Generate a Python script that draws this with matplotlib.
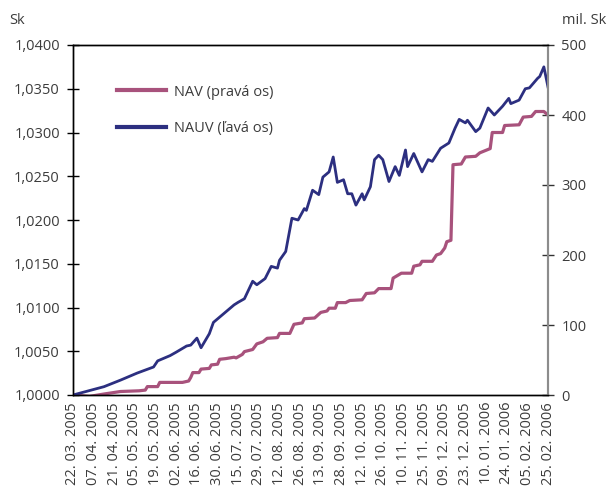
import matplotlib
matplotlib.use("Agg")
import matplotlib.pyplot as plt
from matplotlib.ticker import FuncFormatter

# ── Data (trading-day index, value) ─────────────────────────────────────────
nauv_idx = [0, 15, 23, 31, 39, 41, 47, 50, 55, 57, 60, 62, 66, 68, 73, 78, 80,
            83, 87, 89, 93, 96, 99, 100, 103, 106, 109, 112, 113, 116, 119, 121,
            124, 126, 128, 131, 133, 135, 137, 140, 141, 144, 146, 148, 150, 153,
            156, 158, 161, 162, 165, 169, 172, 174, 178, 182, 185, 187, 190, 191,
            195, 197, 201, 204, 208, 211, 212, 216, 219, 221, 225, 226, 228, 230]
nauv_val = [1.0000, 1.00095, 1.0017, 1.0025, 1.0032, 1.0039, 1.0045, 1.0049,
            1.0056, 1.0057, 1.0065, 1.0054, 1.0070, 1.0083, 1.0093, 1.0103,
            1.0106, 1.0110, 1.0130, 1.0126, 1.0133, 1.0147, 1.0145, 1.0154,
            1.0164, 1.0202, 1.0200, 1.0213, 1.0211, 1.0234, 1.0229, 1.0249,
            1.0255, 1.0272, 1.0243, 1.0246, 1.0230, 1.0230, 1.0217, 1.0230,
            1.0223, 1.0238, 1.0269, 1.0274, 1.0269, 1.0244, 1.0261, 1.0251,
            1.0280, 1.0261, 1.0276, 1.0255, 1.0269, 1.0267, 1.0282, 1.0288,
            1.0305, 1.0315, 1.0311, 1.0314, 1.0301, 1.0305, 1.0328, 1.0320,
            1.0330, 1.0339, 1.0333, 1.0337, 1.0350, 1.0351, 1.0362, 1.0364,
            1.0375, 1.0352]

nav_idx = [0, 8, 15, 23, 32, 35, 36, 41, 42, 53, 56, 57, 58, 61, 62, 66, 67, 70,
           71, 74, 78, 79, 82, 83, 87, 89, 92, 94, 99, 100, 105, 107, 111, 112,
           117, 120, 123, 124, 127, 128, 132, 134, 140, 142, 146, 148, 154, 155,
           159, 164, 165, 168, 169, 174, 176, 178, 180, 181, 183, 184, 188, 190,
           195, 197, 202, 203, 208, 209, 216, 218, 222, 224, 228, 230]
nav_val = [0, -2, 1.4, 5, 6, 7, 12, 12, 18, 18, 20, 25, 32, 32, 37, 38, 43, 44,
           51, 52, 54, 53, 58, 62, 65, 73, 76, 81, 82, 88, 88, 101, 103, 109,
           110, 118, 120, 124, 124, 132, 132, 135, 136, 145, 146, 152, 152, 167,
           174, 174, 184, 186, 191, 191, 200, 202, 210, 219, 221, 329, 330, 340,
           341, 346, 352, 375, 375, 385, 386, 397, 398, 405, 405, 400]

date_labels = ["22. 03. 2005", "07. 04. 2005", "21. 04. 2005", "05. 05. 2005",
               "19. 05. 2005", "02. 06. 2005", "16. 06. 2005", "30. 06. 2005",
               "15. 07. 2005", "29. 07. 2005", "12. 08. 2005", "26. 08. 2005",
               "13. 09. 2005", "28. 09. 2005", "12. 10. 2005", "26. 10. 2005",
               "10. 11. 2005", "25. 11. 2005", "09. 12. 2005", "23. 12. 2005",
               "10. 01. 2006", "24. 01. 2006", "05. 02. 2006", "25. 02. 2006"]
date_pos = list(range(0, 231, 10))

# ── Style ───────────────────────────────────────────────────────────────────
plt.rcParams["font.family"] = ["Open Sans", "DejaVu Sans"]
TXT = "#3c3c3c"
BLUE = "#2c2f80"
PINK = "#a8527c"
FS = 10.5

fig = plt.figure(figsize=(6.11, 5.01), dpi=100)
ax1 = fig.add_axes([73 / 611, 106 / 501, 475 / 611, 350 / 501])
ax2 = ax1.twinx()

ax2.plot(nav_idx, nav_val, color=PINK, lw=2.3, label="NAV (pravá os)",
         solid_joinstyle="round")
ax1.plot(nauv_idx, nauv_val, color=BLUE, lw=2.0, label="NAUV (ľavá os)",
         solid_joinstyle="round")
ax1.set_zorder(ax2.get_zorder() + 1)
ax1.patch.set_visible(False)

ax1.set_xlim(0, 230)
ax1.set_ylim(1.0, 1.04)
ax2.set_ylim(0, 500)

ax1.set_yticks([1.0 + 0.005 * i for i in range(9)])
ax1.yaxis.set_major_formatter(FuncFormatter(lambda v, p: f"{v:.4f}".replace(".", ",")))
ax2.set_yticks(range(0, 501, 100))

ax1.set_xticks(date_pos)
ax1.set_xticklabels(date_labels, rotation=90, fontsize=FS, color=TXT)
ax1.tick_params(axis="x", length=0, pad=5)

ax1.tick_params(axis="y", direction="inout", length=9, width=1, color="black",
                labelsize=FS, labelcolor=TXT, pad=5)
ax2.tick_params(axis="y", direction="inout", length=9, width=1, color="#333333",
                labelsize=FS, labelcolor=TXT, pad=5)

for ax in (ax1, ax2):
    for s in ("left", "top", "bottom"):
        ax.spines[s].set_color("black")
        ax.spines[s].set_linewidth(1)
    ax.spines["right"].set_color("#8c8c8c")
    ax.spines["right"].set_linewidth(1.5)

fig.text(9 / 611, 1 - 20 / 501, "Sk", fontsize=FS, color=TXT, va="center")
fig.text(606 / 611, 1 - 20 / 501, "mil. Sk", fontsize=FS, color=TXT,
         va="center", ha="right")

h2, l2 = ax2.get_legend_handles_labels()
h1, l1 = ax1.get_legend_handles_labels()
leg = ax1.legend(h2 + h1, l2 + l1, loc="center left", bbox_to_anchor=(0.066, 0.813),
                 frameon=False, fontsize=FS, handlelength=3.3, labelspacing=1.5,
                 handletextpad=0.6)
for t in leg.get_texts():
    t.set_color(TXT)
for ln in leg.get_lines():
    ln.set_linewidth(3)

fig.savefig("out.png", dpi=100)
